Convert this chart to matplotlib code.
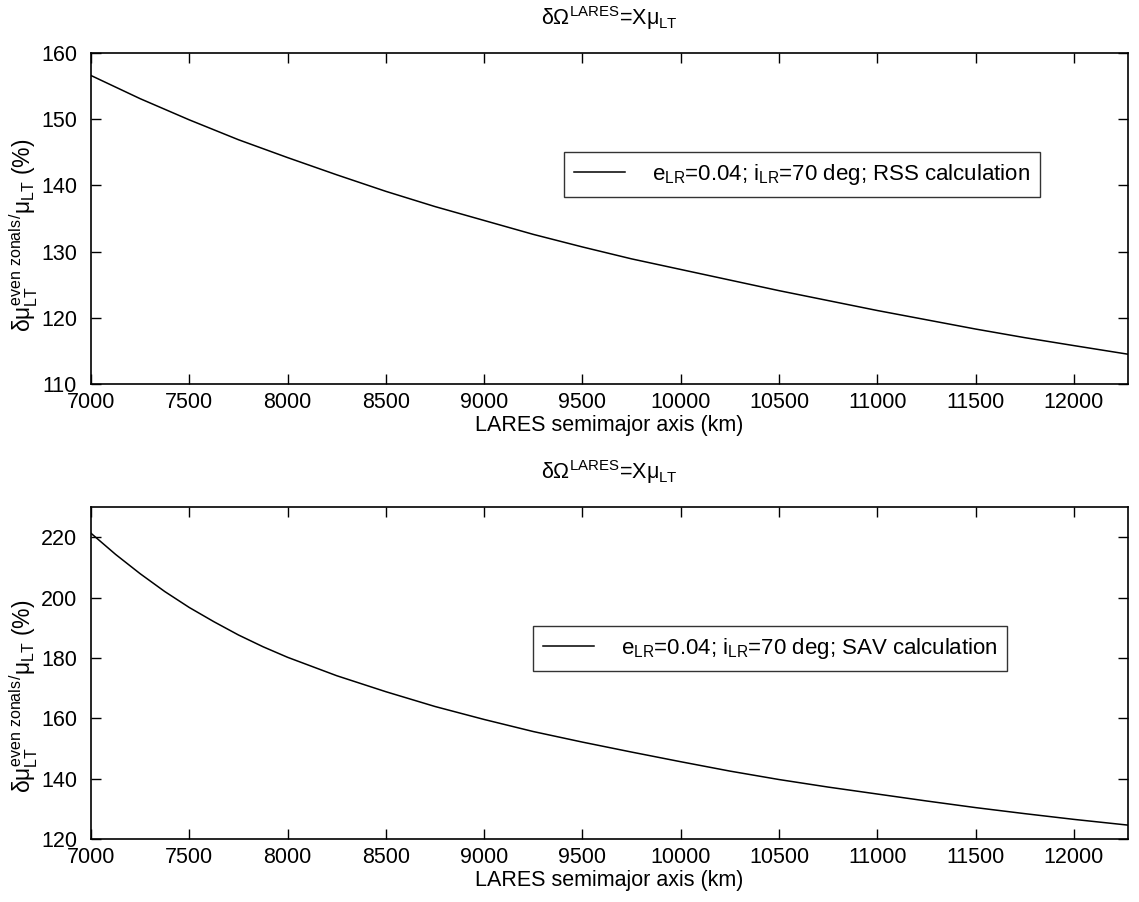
import matplotlib
matplotlib.use("Agg")
import matplotlib.pyplot as plt

plt.rcParams['font.family'] = ['Liberation Sans', 'DejaVu Sans']
plt.rcParams['mathtext.fontset'] = 'custom'
plt.rcParams['mathtext.rm'] = 'Liberation Sans'
plt.rcParams['mathtext.it'] = 'Liberation Sans'
plt.rcParams['mathtext.sf'] = 'Liberation Sans'

# Data
rss_axis = [7000, 7250, 7500, 7750, 8000, 8250, 8500, 8750, 9000, 9250, 9500,
            9750, 10000, 10250, 10500, 10750, 11000, 11250, 11500, 11750, 12000, 12275]
rss_values = [156.6, 153.1, 149.9, 146.9, 144.2, 141.6, 139.1, 136.8, 134.7, 132.6, 130.7,
              128.9, 127.3, 125.7, 124.1, 122.6, 121.1, 119.7, 118.3, 117.0, 115.8, 114.5]
sav_axis = [7000, 7125, 7250, 7375, 7500, 7625, 7750, 7875, 8000, 8250, 8500, 8750, 9000,
            9250, 9500, 9750, 10000, 10250, 10500, 10750, 11000, 11250, 11500, 11750,
            12000, 12275]
sav_values = [221.3, 214.3, 207.9, 202.0, 196.7, 192.0, 187.6, 183.7, 180.2, 174.1, 168.8,
              163.9, 159.6, 155.6, 152.1, 148.8, 145.6, 142.5, 139.7, 137.2, 134.9, 132.6,
              130.4, 128.4, 126.5, 124.6]

x_ticks = [7000, 7500, 8000, 8500, 9000, 9500, 10000, 10500, 11000, 11500, 12000]
top_yticks = [110, 120, 130, 140, 150, 160]
bot_yticks = [120, 140, 160, 180, 200, 220]

title_text = r'$\delta\Omega^{\rm LARES}$=X$\mu_{\rm LT}$'
ylabel_text = r'$\delta\mu_{\rm LT}^{\rm even\ zonals}$$^{/}$$\mu_{\rm LT}$ (%)'
xlabel_text = 'LARES semimajor axis (km)'
legend_rss = r'$e_{\rm LR}$=0.04; $i_{\rm LR}$=70 deg; RSS calculation'
legend_sav = r'$e_{\rm LR}$=0.04; $i_{\rm LR}$=70 deg; SAV calculation'

fig = plt.figure(figsize=(11.39, 9.02), dpi=100)
ax1 = fig.add_axes([91/1139, 1-384/902, 1037/1139, 331/902])
ax2 = fig.add_axes([91/1139, 1-839/902, 1037/1139, 332/902])

fs = 15.5
for ax, xv, yv, yt, ylim, lab, lbbox, ylab_y in [
    (ax1, rss_axis, rss_values, top_yticks, (110, 160), legend_rss, (0.456, 0.565), 0.45),
    (ax2, sav_axis, sav_values, bot_yticks, (120, 230), legend_sav, (0.426, 0.506), 0.43),
]:
    ax.plot(xv, yv, color='black', linewidth=1.1, label=lab)
    ax.set_xlim(7000, 12275)
    ax.set_ylim(*ylim)
    ax.set_xticks(x_ticks)
    ax.set_yticks(yt)
    ax.tick_params(direction='in', top=True, right=True, length=7.5, width=1,
                   labelsize=fs)
    ax.tick_params(axis='x', pad=6)
    ax.tick_params(axis='y', pad=10)
    for s in ax.spines.values():
        s.set_linewidth(1.2)
    ax.set_title(title_text, fontsize=fs, pad=20)
    ax.set_xlabel(xlabel_text, fontsize=fs, labelpad=1)
    ax.set_ylabel(ylabel_text, fontsize=16.5)
    ax.yaxis.set_label_coords(-0.049, ylab_y)
    leg = ax.legend(loc='lower left', bbox_to_anchor=lbbox, fontsize=16,
                    frameon=True, fancybox=False, edgecolor='black',
                    handlelength=2.3, borderpad=0.45, handletextpad=1.2,
                    borderaxespad=0)
    leg.get_frame().set_linewidth(1.0)

fig.savefig('out.png', dpi=100)
